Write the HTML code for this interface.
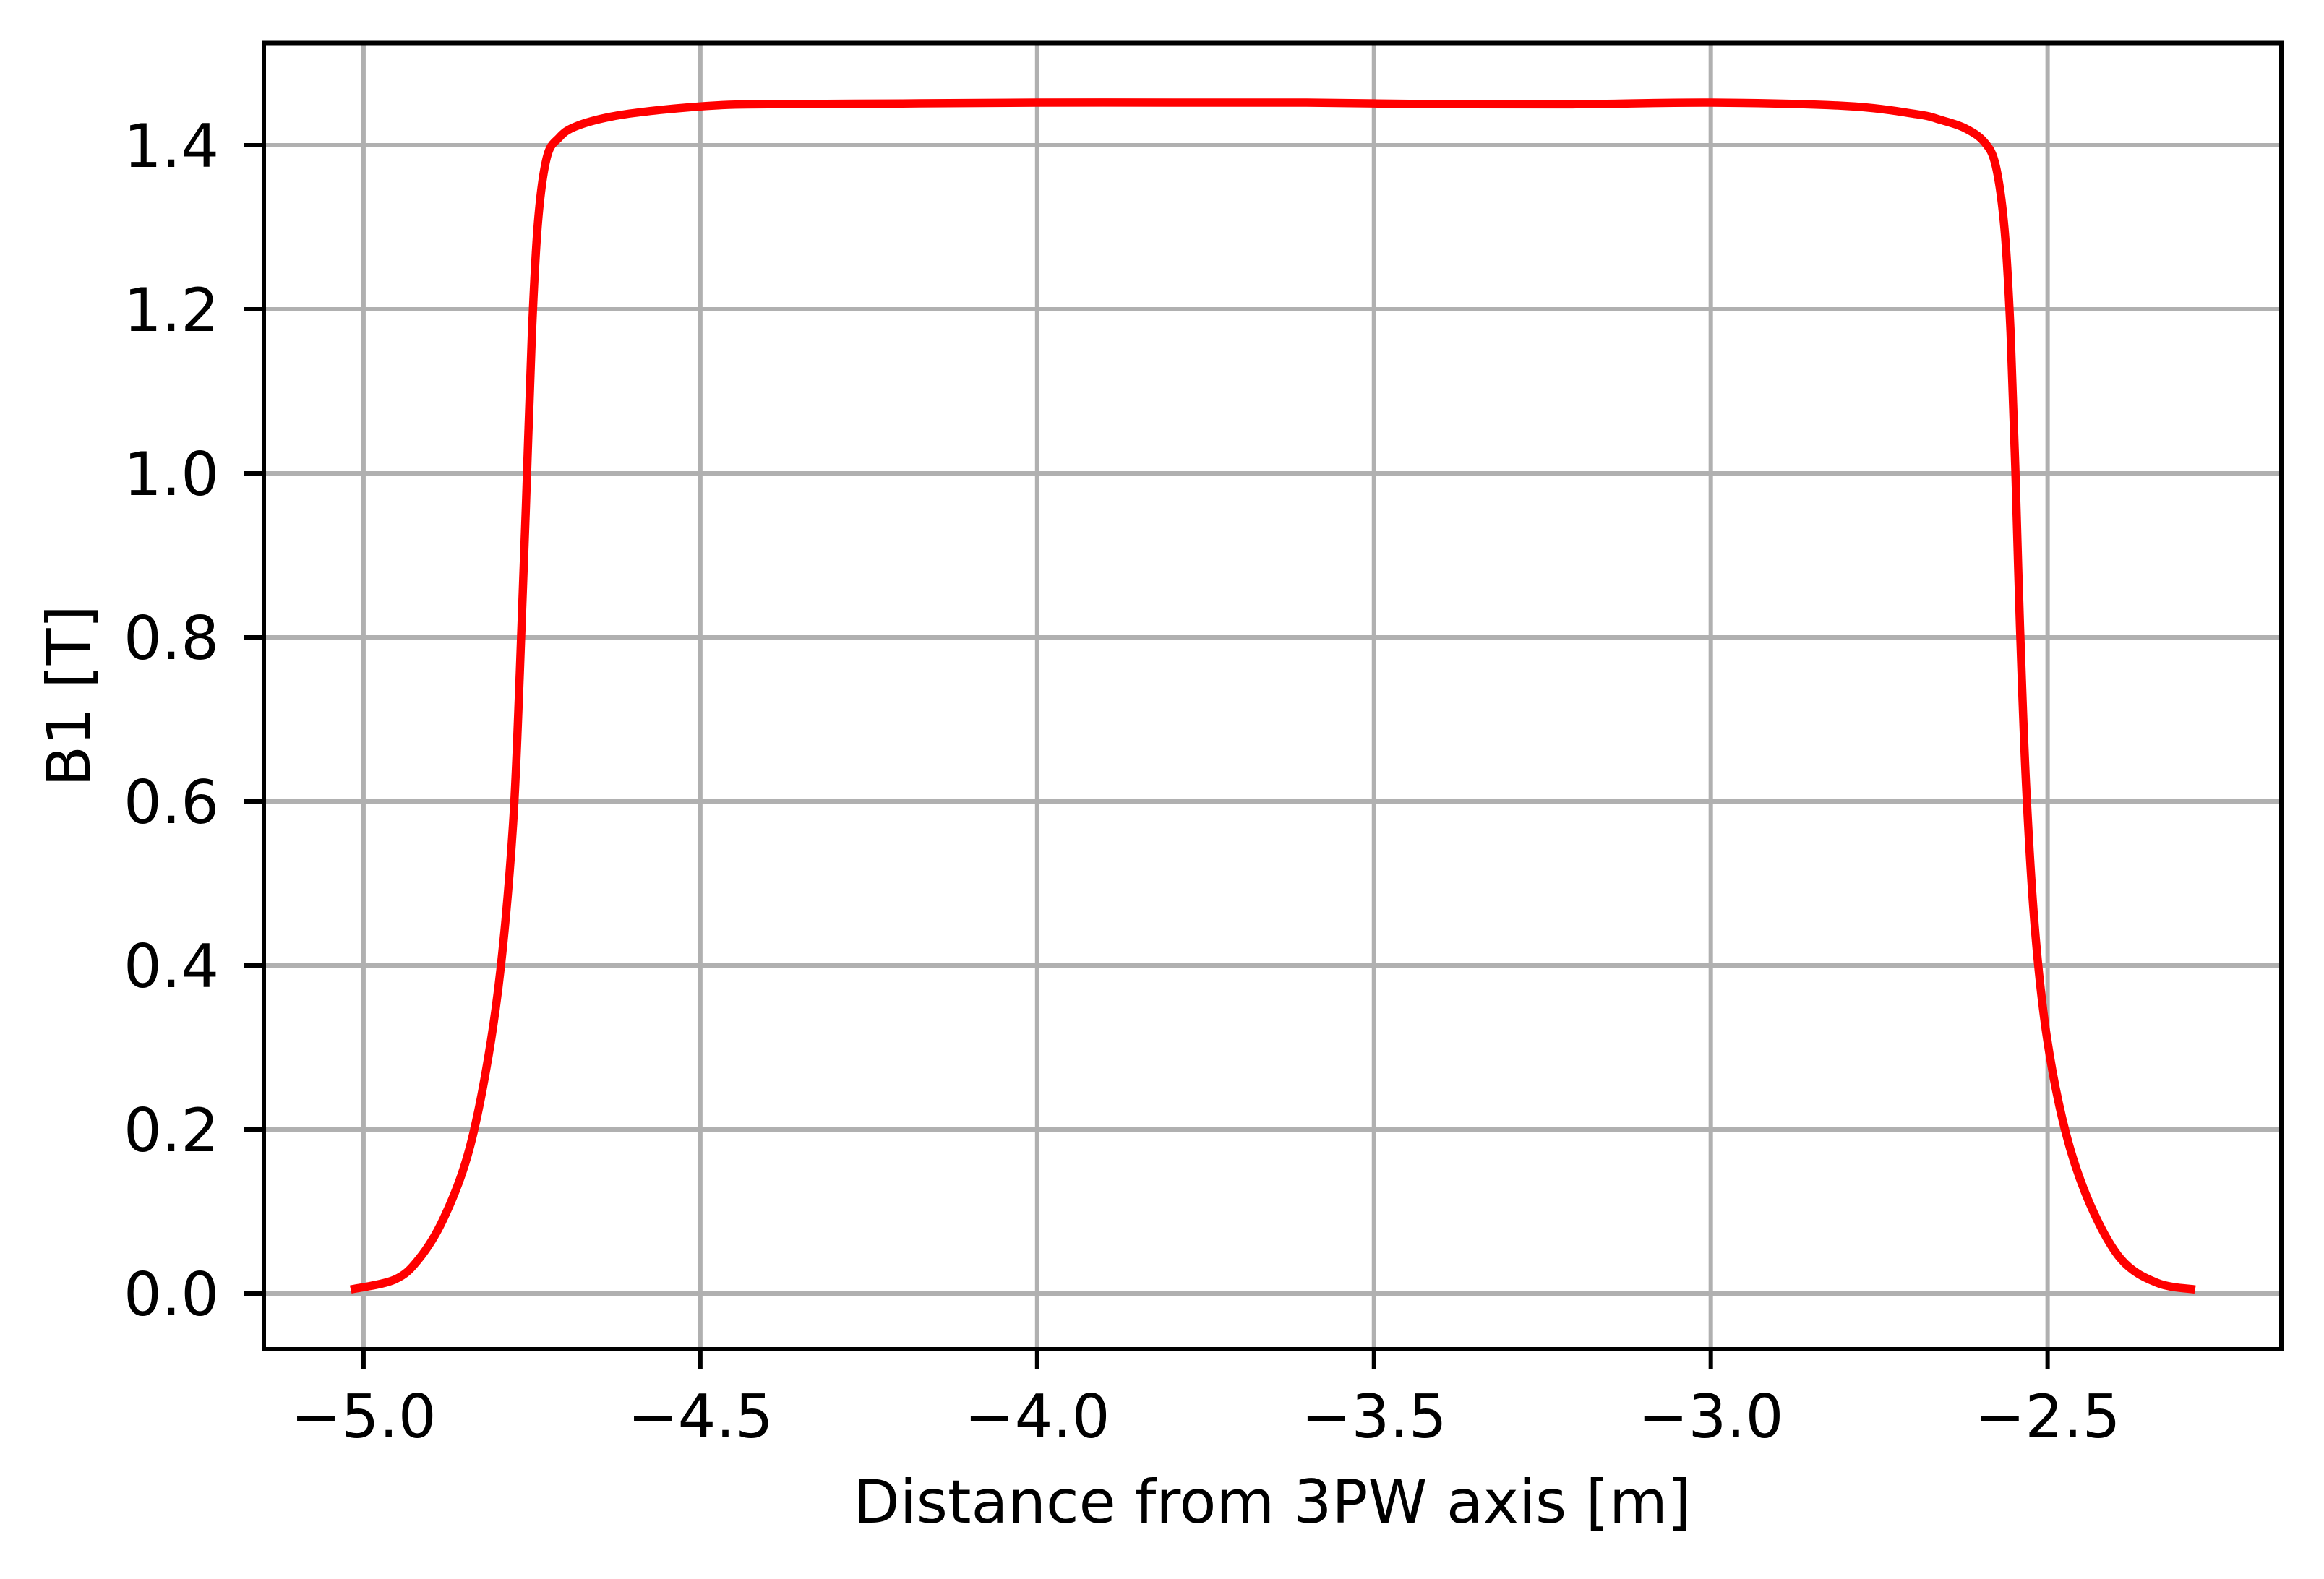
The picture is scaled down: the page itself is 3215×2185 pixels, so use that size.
<!DOCTYPE html>
<html><head><meta charset="utf-8"><style>
html,body{margin:0;padding:0;background:#fff;}
svg{display:block;font-family:"DejaVu Sans","Liberation Sans",sans-serif;}
</style></head><body>
<svg id="chart" width="3215" height="2185" viewBox="0 0 3215 2185" xmlns="http://www.w3.org/2000/svg">
<rect width="3215" height="2185" fill="#fff"/>
<g id="grid"></g>
<g id="ticks"></g>
<g id="series"></g>
<rect x="365" y="59.5" width="2791" height="1807.5" fill="none" stroke="#000" stroke-width="6"/>
<text x="1760" y="2107" font-size="83" text-anchor="middle">Distance from 3PW axis [m]</text>
<text x="0" y="0" font-size="83" text-anchor="middle" transform="translate(124,963) rotate(-90)">B1 [T]</text>
</svg>
<script>
const xTicks = [-5.0, -4.5, -4.0, -3.5, -3.0, -2.5];
const xTickLabels = ["\u22125.0", "\u22124.5", "\u22124.0", "\u22123.5", "\u22123.0", "\u22122.5"];
const yTicks = [0.0, 0.2, 0.4, 0.6, 0.8, 1.0, 1.2, 1.4];
const yTickLabels = ["0.0", "0.2", "0.4", "0.6", "0.8", "1.0", "1.2", "1.4"];
const distance = [-5.019, -4.954, -4.918, -4.882, -4.846, -4.818, -4.796, -4.778, -4.768, -4.759, -4.750, -4.741, -4.728, -4.710, -4.685, -4.632, -4.560, -4.467, -4.4, -4.2, -4.0, -3.8, -3.6, -3.4, -3.2, -3.0, -2.8, -2.695, -2.659, -2.623, -2.594, -2.577, -2.564, -2.555, -2.548, -2.541, -2.532, -2.519, -2.501, -2.473, -2.437, -2.391, -2.337, -2.281];
const b1 = [0.005, 0.017, 0.042, 0.090, 0.167, 0.273, 0.400, 0.573, 0.757, 0.959, 1.172, 1.307, 1.385, 1.409, 1.423, 1.435, 1.443, 1.449, 1.450, 1.451, 1.452, 1.452, 1.452, 1.450, 1.450, 1.452, 1.448, 1.438, 1.431, 1.421, 1.404, 1.375, 1.298, 1.172, 1.008, 0.814, 0.621, 0.447, 0.312, 0.196, 0.109, 0.042, 0.013, 0.005];

const X0 = 365, X1 = 3156, Y0 = 1867, Y1 = 59.5;
const xMin = -5.148, xMax = -2.153, yMin = -0.0678, yMax = 1.5247;
function sx(v){ return X0 + (v - xMin) / (xMax - xMin) * (X1 - X0); }
function sy(v){ return Y0 - (v - yMin) / (yMax - yMin) * (Y0 - Y1); }
const NS = "http://www.w3.org/2000/svg";
const grid = document.getElementById('grid');
const ticks = document.getElementById('ticks');
const series = document.getElementById('series');
function mk(tag, attrs, parent){ const e = document.createElementNS(NS, tag); for (const k in attrs) e.setAttribute(k, attrs[k]); parent.appendChild(e); return e; }

xTicks.forEach((v, i) => {
  const x = sx(v);
  const g = mk('line', {x1:x, x2:x, y1:Y1, y2:Y0, stroke:'#b0b0b0', 'stroke-width':6}, grid);
  
  
  const t = mk('line', {x1:x, x2:x, y1:Y0, y2:Y0+27, stroke:'#000', 'stroke-width':6}, ticks);
  
  
  const l = mk('text', {x:x, y:1989, 'font-size':83, 'text-anchor':'middle'}, ticks);
  l.textContent = xTickLabels[i];
  
  
});
yTicks.forEach((v, i) => {
  const y = sy(v);
  const g = mk('line', {x1:X0, x2:X1, y1:y, y2:y, stroke:'#b0b0b0', 'stroke-width':6}, grid);
  
  
  const t = mk('line', {x1:X0-27, x2:X0, y1:y, y2:y, stroke:'#000', 'stroke-width':6}, ticks);
  
  
  const l = mk('text', {x:303, y:y+30, 'font-size':83, 'text-anchor':'end'}, ticks);
  l.textContent = yTickLabels[i];
  
  
});
// smooth path (Catmull-Rom) through data points
const P = distance.map((d, i) => [sx(d), sy(b1[i])]);
let dstr = 'M' + P[0][0].toFixed(1) + ',' + P[0][1].toFixed(1);
for (let i = 0; i < P.length - 1; i++) {
  const p0 = P[Math.max(0, i-1)], p1 = P[i], p2 = P[i+1], p3 = P[Math.min(P.length-1, i+2)];
  const c1x = p1[0] + (p2[0]-p0[0])/6, c1y = p1[1] + (p2[1]-p0[1])/6;
  const c2x = p2[0] - (p3[0]-p1[0])/6, c2y = p2[1] - (p3[1]-p1[1])/6;
  dstr += ' C' + c1x.toFixed(1) + ',' + c1y.toFixed(1) + ' ' + c2x.toFixed(1) + ',' + c2y.toFixed(1) + ' ' + p2[0].toFixed(1) + ',' + p2[1].toFixed(1);
}
const line = mk('path', {d:dstr, fill:'none', stroke:'#ff0000', 'stroke-width':11.5, 'stroke-linejoin':'round'}, series);


</script>
</body></html>
